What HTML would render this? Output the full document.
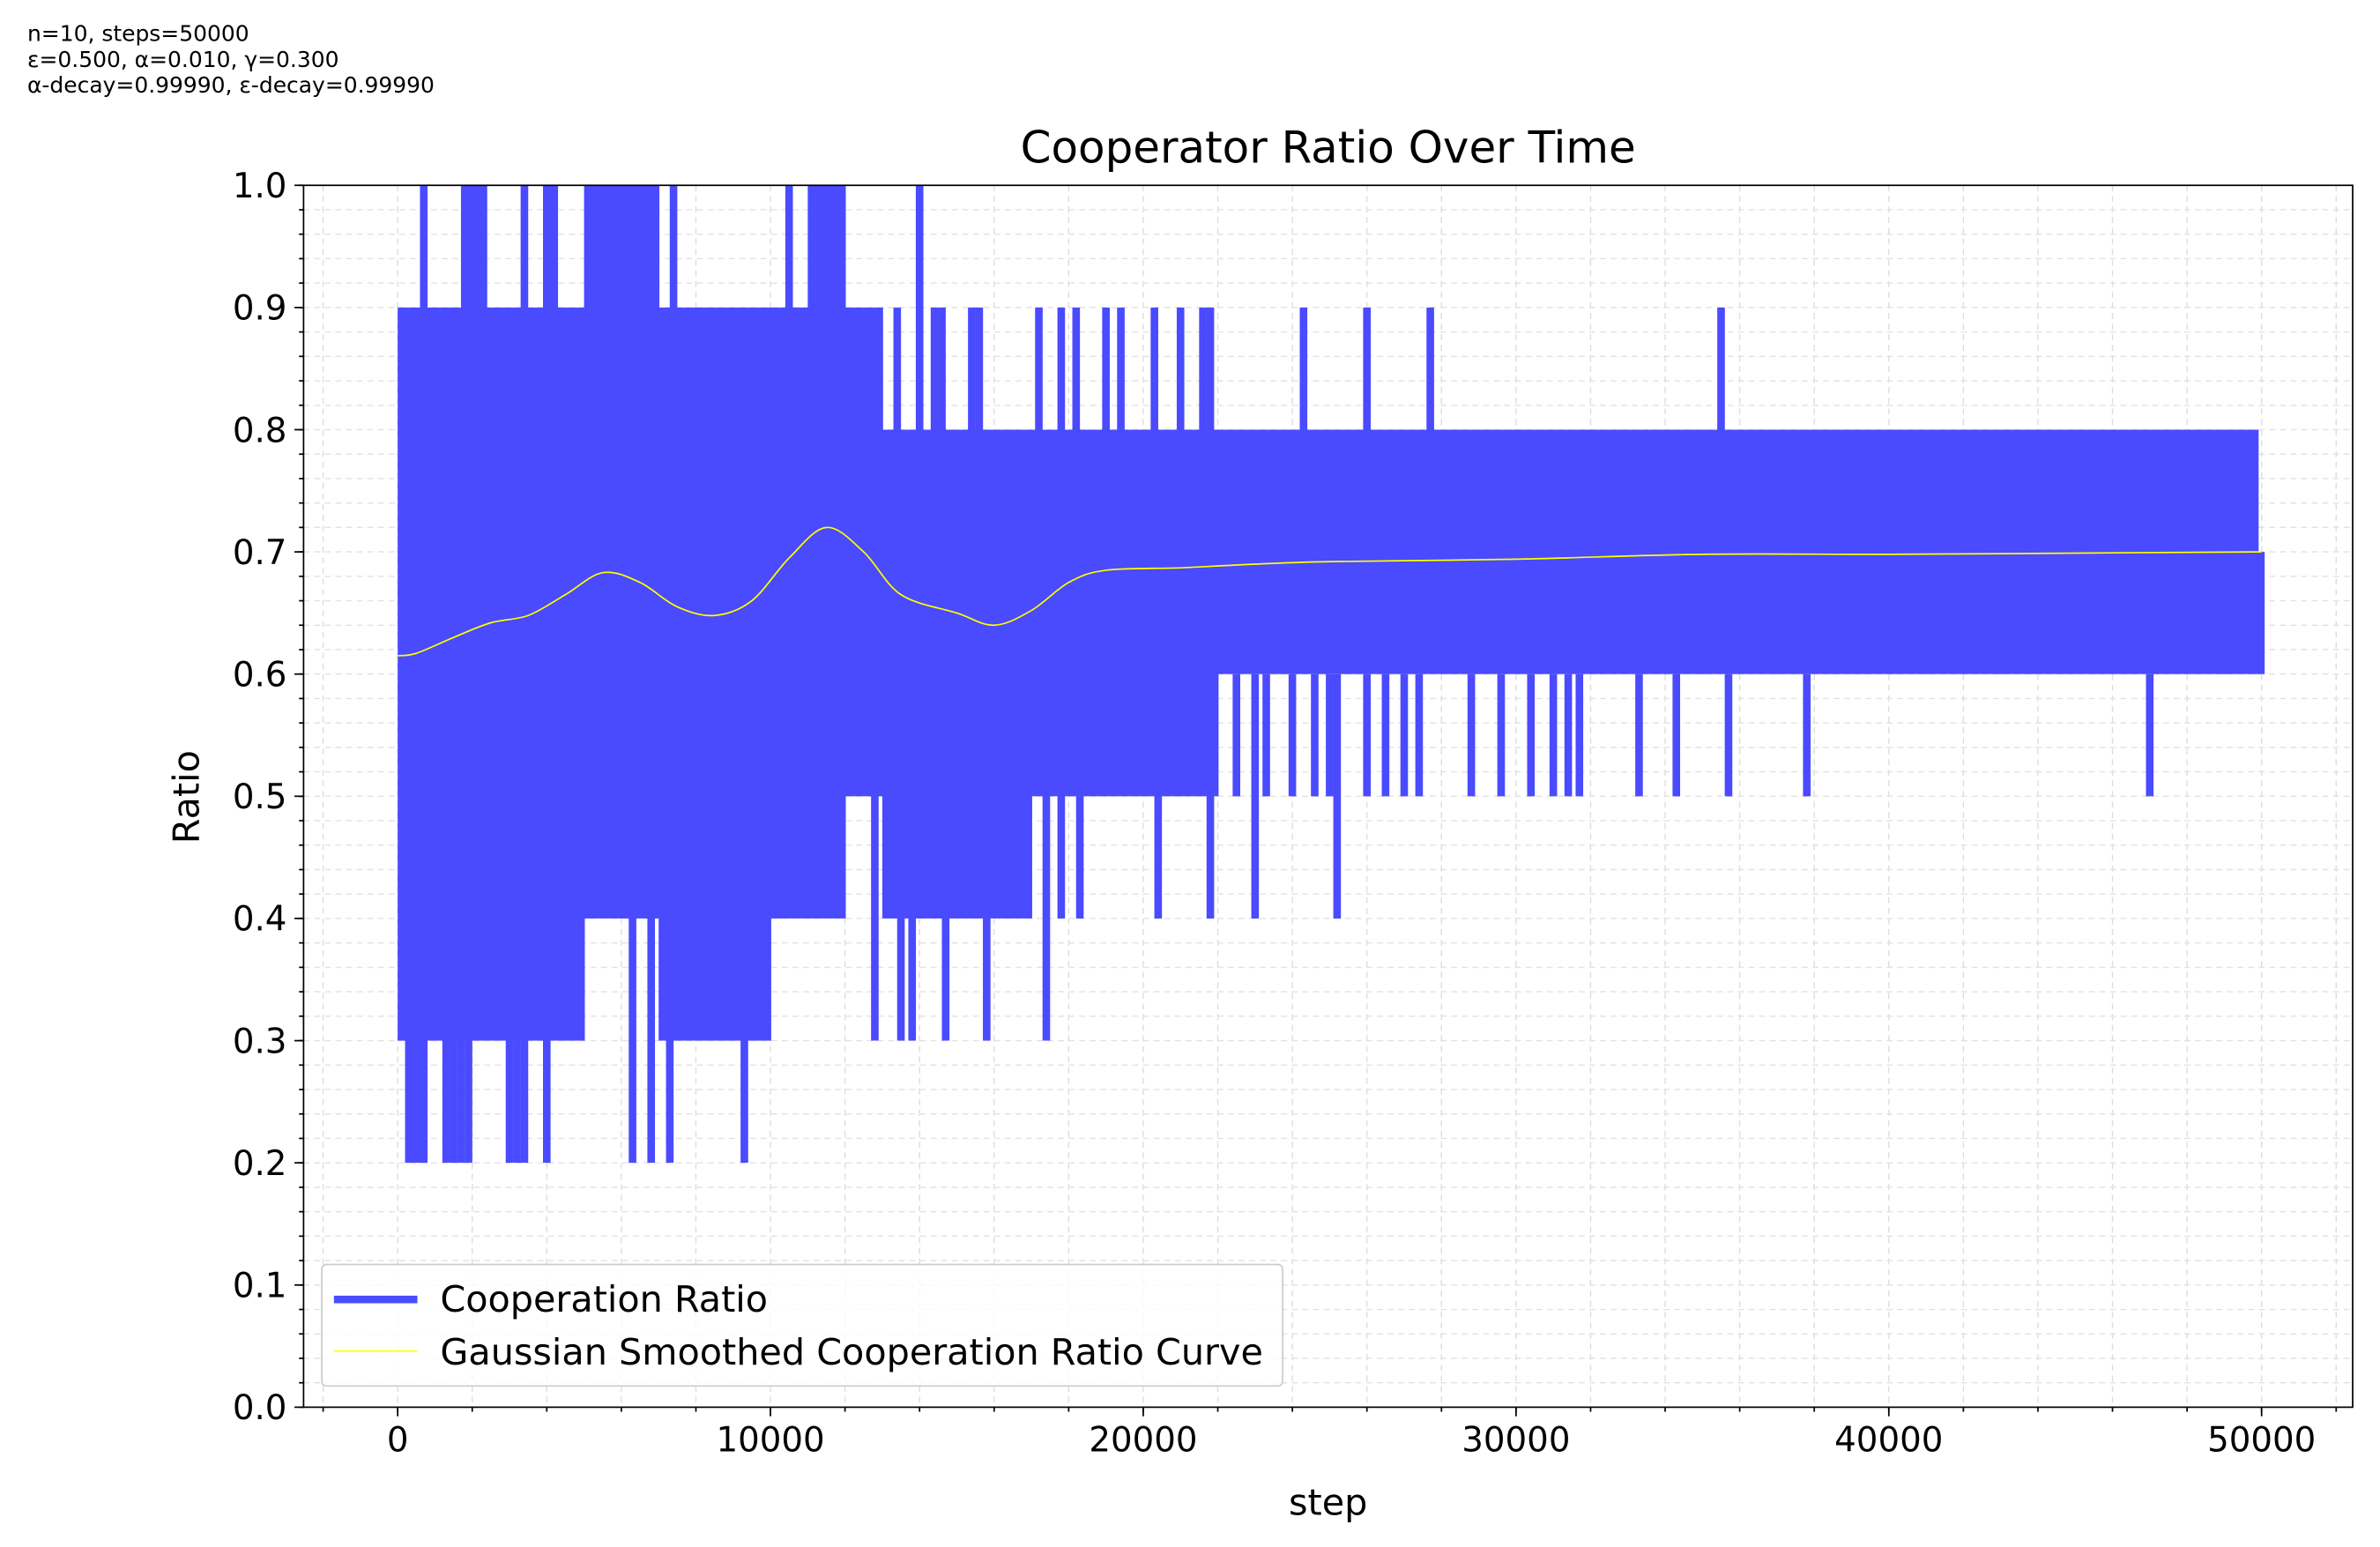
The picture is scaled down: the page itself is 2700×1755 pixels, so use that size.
<!DOCTYPE html>
<html><head><meta charset="utf-8"><style>
html,body{margin:0;padding:0;background:#fff;}
svg{display:block;font-family:"DejaVu Sans","Liberation Sans",sans-serif;}
</style></head><body>
<svg id="chart" width="2700" height="1755" viewBox="0 0 1568 1019" xmlns="http://www.w3.org/2000/svg">
<rect width="1568" height="1019" fill="#fff"/>
<g font-size="14.5" fill="#000">
<text x="18" y="27">n=10, steps=50000</text>
<text x="18" y="44">ε=0.500, α=0.010, γ=0.300</text>
<text x="18" y="61">α-decay=0.99990, ε-decay=0.99990</text>
</g>
<text x="875" y="107" font-size="29" text-anchor="middle">Cooperator Ratio Over Time</text>
<g id="grid"></g>
<g id="marks"></g>
<g id="axes"></g>
<text x="875" y="998" font-size="24" text-anchor="middle">step</text>
<text transform="translate(131,525) rotate(-90)" font-size="24" text-anchor="middle">Ratio</text>
<g>
<rect x="212" y="833" width="633" height="80" rx="3" fill="#fff" fill-opacity="0.8" stroke="#ccc"/>
<line x1="220" y1="856" x2="275" y2="856" stroke="#0000ff" stroke-opacity="0.7" stroke-width="5"/>
<text x="290" y="864" font-size="24">Cooperation Ratio</text>
<line x1="220" y1="890" x2="275" y2="890" stroke="#ffff00" stroke-width="1"/>
<text x="290" y="899" font-size="24">Gaussian Smoothed Cooperation Ratio Curve</text>
</g>
</svg>
<script>
const binStarts=[0,1000,2000,3000,4000,5000,6000,7000,8000,9000,10000,11000,12000,13000,14000,15000,16000,17000,18000,19000,20000,21000,22000,23000,24000,25000,26000,27000,28000,29000,30000,31000,32000,33000,34000,35000,36000,37000,38000,39000,40000,41000,42000,43000,44000,45000,46000,47000,48000,49000];
const binLo=[0.3,0.3,0.3,0.3,0.3,0.4,0.4,0.3,0.3,0.3,0.4,0.4,0.5,0.4,0.4,0.4,0.4,0.5,0.5,0.5,0.5,0.5,0.6,0.6,0.6,0.6,0.6,0.6,0.6,0.6,0.6,0.6,0.6,0.6,0.6,0.6,0.6,0.6,0.6,0.6,0.6,0.6,0.6,0.6,0.6,0.6,0.6,0.6,0.6,0.6];
const binHi=[0.9,0.9,0.9,0.9,0.9,1.0,1.0,0.9,0.9,0.9,0.9,1.0,0.9,0.8,0.8,0.8,0.8,0.8,0.8,0.8,0.8,0.8,0.8,0.8,0.8,0.8,0.8,0.8,0.8,0.8,0.8,0.8,0.8,0.8,0.8,0.8,0.8,0.8,0.8,0.8,0.8,0.8,0.8,0.8,0.8,0.8,0.8,0.8,0.8,0.8];
const spikeSteps=[300,500,700,1300,1500,1700,1900,3000,3200,3400,4000,6300,6800,7300,9300,700,1800,2000,2200,2300,3400,4000,4200,7400,10500,14000,13400,14400,14600,15400,15600,17200,17800,18200,19000,19400,20300,21000,21600,21800,24300,26000,27700,35500,12800,13500,13800,14700,15800,17400,17800,18300,20400,21800,23000,25200,22500,23300,24000,24600,25000,26000,26500,27000,27400,28800,29600,30400,31000,31400,31700,33300,34300,35700,37800,47000];
const spikeVals=[0.2,0.2,0.2,0.2,0.2,0.2,0.2,0.2,0.2,0.2,0.2,0.2,0.2,0.2,0.2,1.0,1.0,1.0,1.0,1.0,1.0,1.0,1.0,1.0,1.0,1.0,0.9,0.9,0.9,0.9,0.9,0.9,0.9,0.9,0.9,0.9,0.9,0.9,0.9,0.9,0.9,0.9,0.9,0.9,0.3,0.3,0.3,0.3,0.3,0.3,0.4,0.4,0.4,0.4,0.4,0.4,0.5,0.5,0.5,0.5,0.5,0.5,0.5,0.5,0.5,0.5,0.5,0.5,0.5,0.5,0.5,0.5,0.5,0.5,0.5,0.5];
const smoothSteps=[0,500,1500,2500,3500,4500,5500,6500,7500,8500,9500,10500,11500,12500,13500,15000,16000,17000,18000,19000,21000,23000,25000,30000,35000,40000,45000,50000];
const smoothVals=[0.615,0.617,0.63,0.642,0.648,0.665,0.683,0.675,0.655,0.648,0.66,0.695,0.72,0.7,0.665,0.65,0.64,0.652,0.675,0.685,0.687,0.69,0.692,0.694,0.698,0.698,0.699,0.7];
const xTicks=[0,10000,20000,30000,40000,50000];
const yTicks=[0,0.1,0.2,0.3,0.4,0.5,0.6,0.7,0.8,0.9,1.0];

const L=200,R=1550,T=122,B=927;
const X=s=>262+(s/50000)*(1490-262);
const Y=v=>B-(v)*(B-T);
const NS="http://www.w3.org/2000/svg";
function mk(tag,attrs,parent){const e=document.createElementNS(NS,tag);for(const k in attrs)e.setAttribute(k,attrs[k]);parent.appendChild(e);return e;}
const grid=document.getElementById('grid'),marks=document.getElementById('marks'),axes=document.getElementById('axes');
for(let s=-2000;s<=52000;s+=2000){const x=X(s);if(x<L||x>R)continue;
 const g=mk('line',{x1:x,x2:x,y1:T,y2:B,stroke:'#ddd','stroke-width':0.8,'stroke-dasharray':'4,3'},grid);
 
 }
for(let i=0;i<=50;i++){const y=Y(i/50);
 const g=mk('line',{x1:L,x2:R,y1:y,y2:y,stroke:'#e2e2e2','stroke-width':0.8,'stroke-dasharray':'4,3'},grid);
 
 }
binStarts.forEach((s,i)=>{const e=Math.min(s+1000,49900);
 const r=mk('rect',{x:X(s),y:Y(binHi[i]),width:X(e)-X(s)+0.5,height:Y(binLo[i])-Y(binHi[i]),fill:'#4a4aff'},marks);
 
 });
spikeSteps.forEach((s,i)=>{const v=spikeVals[i];const base=v>0.7?0.8:0.6;
 const l=mk('line',{x1:X(s),x2:X(s),y1:Y(base),y2:Y(v),stroke:'#4a4aff','stroke-width':5},marks);
 
 });
const tail=mk('rect',{x:X(49900),y:Y(0.7),width:X(50000)-X(49900)+2,height:Y(0.6)-Y(0.7),fill:'#4a4aff'},marks);


const P=smoothSteps.map((s,i)=>[X(s),Y(smoothVals[i])]);
let d='M'+P[0][0].toFixed(1)+','+P[0][1].toFixed(1);
for(let i=0;i<P.length-1;i++){const p0=P[Math.max(i-1,0)],p1=P[i],p2=P[i+1],p3=P[Math.min(i+2,P.length-1)];
 const c1=[p1[0]+(p2[0]-p0[0])/6,p1[1]+(p2[1]-p0[1])/6],c2=[p2[0]-(p3[0]-p1[0])/6,p2[1]-(p3[1]-p1[1])/6];
 d+=' C'+c1[0].toFixed(1)+','+c1[1].toFixed(1)+' '+c2[0].toFixed(1)+','+c2[1].toFixed(1)+' '+p2[0].toFixed(1)+','+p2[1].toFixed(1);}
const sm=mk('path',{d:d,fill:'none',stroke:'#ffff00','stroke-width':1},marks);


const fr=mk('rect',{x:L,y:T,width:R-L,height:B-T,fill:'none',stroke:'#000','stroke-width':1},axes);


xTicks.forEach(t=>{const x=X(t);
 mk('line',{x1:x,x2:x,y1:B,y2:B+6,stroke:'#000'},axes);
 const tx=mk('text',{x:x,y:B+29,'font-size':22.5,'text-anchor':'middle'},axes);tx.textContent=t;
 
 });
for(let s=-2000;s<=52000;s+=2000){const x=X(s);if(x<L||x>R)continue;mk('line',{x1:x,x2:x,y1:B,y2:B+3,stroke:'#000'},axes);}
yTicks.forEach(t=>{const y=Y(t);
 mk('line',{x1:L-6,x2:L,y1:y,y2:y,stroke:'#000'},axes);
 const tx=mk('text',{x:L-11,y:y+8,'font-size':22.5,'text-anchor':'end'},axes);tx.textContent=t.toFixed(1);
 
 });
for(let i=0;i<=50;i++){const y=Y(i/50);mk('line',{x1:L-3,x2:L,y1:y,y2:y,stroke:'#000'},axes);}
</script>
</body></html>
